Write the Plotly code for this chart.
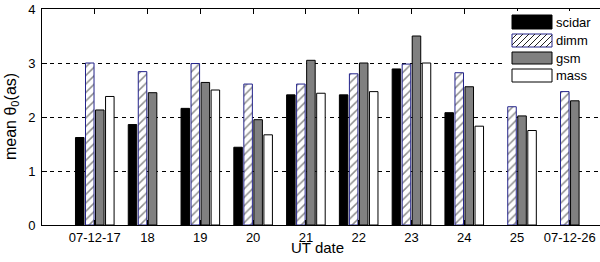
import plotly.graph_objects as go

days = [17, 18, 19, 20, 21, 22, 23, 24, 25, 26]
tick_labels = ["07-12-17", "18", "19", "20", "21", "22", "23", "24", "25", "07-12-26"]
scidar = [1.62, 1.86, 2.16, 1.44, 2.41, 2.41, 2.89, 2.08, None, None]
dimm = [3.00, 2.84, 2.99, 2.61, 2.61, 2.80, 2.98, 2.82, 2.19, 2.47]
gsm = [2.13, 2.45, 2.64, 1.95, 3.05, 3.00, 3.50, 2.56, 2.02, 2.30]
mass = [2.38, None, 2.50, 1.67, 2.44, 2.47, 3.00, 1.83, 1.75, None]
series_names = ["scidar", "dimm", "gsm", "mass"]

W, H = 600, 262
L, R, T, B = 42, 0, 9, 37
PW, PH = W - L - R, H - T - B

def px(x):
    return (x - L) / PW

def py(y):
    return (H - B - y) / PH

NAVY = "#22228a"
FONT = "Liberation Sans, Arial, sans-serif"

fig = go.Figure()
fig.add_trace(go.Bar(x=days, y=scidar, name="scidar",
                     marker=dict(color="black", line=dict(color="black", width=1))))
fig.add_trace(go.Bar(x=days, y=dimm, name="dimm",
                     marker=dict(color="white", line=dict(color=NAVY, width=1),
                                 pattern=dict(shape="/", fgcolor="#1a1a1a", bgcolor="white",
                                              size=6, solidity=0.25))))
fig.add_trace(go.Bar(x=days, y=gsm, name="gsm",
                     marker=dict(color="#808080", line=dict(color="black", width=1))))
fig.add_trace(go.Bar(x=days, y=mass, name="mass",
                     marker=dict(color="white", line=dict(color="black", width=1))))

fig.update_layout(
    width=W, height=H,
    margin=dict(l=L, r=R, t=T, b=B, pad=0, autoexpand=False),
    paper_bgcolor="white", plot_bgcolor="white",
    barmode="group", bargap=0.24, bargroupgap=0.15,
    showlegend=False,
    font=dict(family=FONT, size=13, color="black"),
)
fig.update_xaxes(
    range=[16, 16 + PW / 52.78], tickvals=days, ticktext=tick_labels,
    showline=True, linecolor="black", linewidth=1, mirror="ticks",
    ticks="inside", ticklen=5, tickcolor="black", showgrid=False, zeroline=False,
    tickfont=dict(size=13), automargin=False,
)
fig.update_yaxes(
    range=[0, 4], tickvals=[0, 1, 2, 3, 4],
    showline=True, linecolor="black", linewidth=1,
    ticks="inside", ticklen=5, tickcolor="black",
    showgrid=True, gridcolor="black", gridwidth=1, griddash="4px,4px",
    zeroline=False, tickfont=dict(size=13), automargin=False, ticklabelstandoff=3,
)

annotations = [
    dict(text="UT date", xref="paper", yref="paper", x=px(317), y=py(247),
         xanchor="center", yanchor="middle", showarrow=False, font=dict(size=15)),
    dict(text="mean θ<sub>0</sub>(as)", xref="paper", yref="paper", x=px(11), y=py(117),
         xanchor="center", yanchor="middle", showarrow=False, textangle=-90,
         font=dict(size=16)),
]

# custom legend (MATLAB style)
shapes = [dict(type="rect", xref="paper", yref="paper",
               x0=px(503), x1=px(600), y0=py(86), y1=py(11),
               fillcolor="white", line=dict(width=0), layer="above")]
legend_rows = [(15, 29), (34, 47), (52, 64), (69, 82)]
styles = [("black", "black"), ("white", NAVY), ("#808080", "black"), ("white", "black")]
for name, (y0, y1), (fc, lc) in zip(series_names, legend_rows, styles):
    shapes.append(dict(type="rect", xref="paper", yref="paper",
                       x0=px(512), x1=px(552), y0=py(y1), y1=py(y0),
                       fillcolor=fc, line=dict(color=lc, width=1), layer="above"))
    annotations.append(dict(text=name, xref="paper", yref="paper",
                            x=px(554), y=py((y0 + y1) / 2), xanchor="left", yanchor="middle",
                            showarrow=False, font=dict(size=13, color="black")))
# hatch for dimm legend patch
y0, y1 = legend_rows[1]
for k in range(-14, 40, 6):
    xa, xb = 512 + k, 512 + k + (y1 - y0)
    ya, yb = y1, y0
    if xa < 512:
        ya = y1 - (512 - xa); xa = 512
    if xb > 552:
        yb = y0 + (xb - 552); xb = 552
    if xa < xb:
        shapes.append(dict(type="line", xref="paper", yref="paper",
                           x0=px(xa), x1=px(xb), y0=py(ya), y1=py(yb),
                           line=dict(color="#222222", width=1), layer="above"))
fig.update_layout(shapes=shapes, annotations=annotations)

fig.write_html("out.html", config={"displayModeBar": False},
               post_script="document.body.style.margin='0';")
